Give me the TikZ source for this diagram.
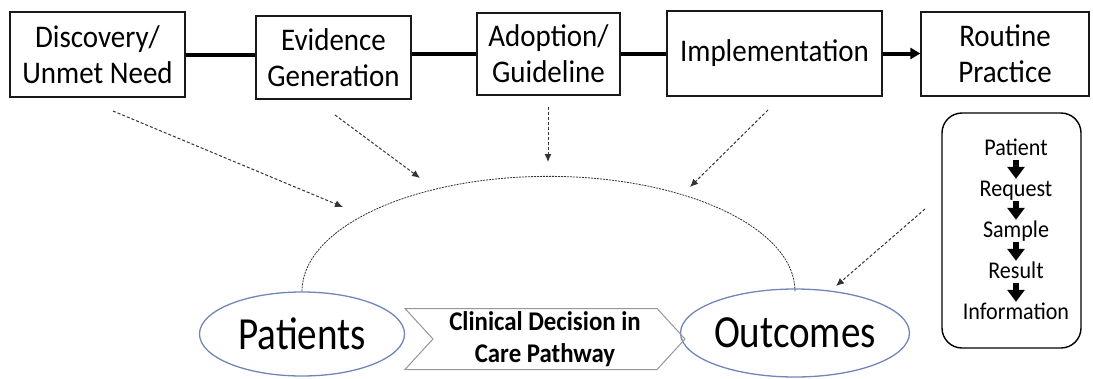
\documentclass[tikz,border=0pt]{standalone}
\usepackage{fontspec}
\setmainfont{Carlito}[FakeStretch=0.92]
\newfontfamily\narrowfont{Carlito}[FakeStretch=0.85]
\usetikzlibrary{shapes.geometric,shapes.symbols,arrows.meta}
\definecolor{ringblue}{RGB}{112,134,184}
\definecolor{chevgray}{RGB}{150,150,150}

\begin{document}
\begin{tikzpicture}[x=1pt,y=1pt,
  stage/.style={draw=black!90,line width=1.2pt,inner sep=0pt,align=center,
    font=\fontsize{31.5}{36}\selectfont},
  link/.style={line width=4pt},
  hint/.style={draw=black!80,line width=1pt,dash pattern=on 3pt off 2pt,
    -{Latex[length=8pt,width=7pt]}},
  ring/.style={ellipse,draw=ringblue,line width=1.3pt,inner sep=0pt,
    font=\narrowfont\fontsize{46}{50}\selectfont},
  item/.style={anchor=base,inner sep=1pt,text height=16pt,text depth=4pt,
    font=\fontsize{24}{28}\selectfont},
  down/.style={line width=6pt,-{Triangle[length=12pt,width=17pt]}}]
  \useasboundingbox (0,0) rectangle (1093,-378);

  \node[stage,minimum width=175pt,minimum height=85pt]
  (disc) at (97.5,-54.5) {Discovery/\\Unmet Need};
  \node[stage,minimum width=155pt,minimum height=83pt]
  (evid) at (333.5,-57.5) {Evidence\\Generation};
  \node[stage,minimum width=143pt,minimum height=82pt]
  (adop) at (548.5,-54) {Adoption/\\Guideline};
  \node[stage,minimum width=215pt,minimum height=85pt]
  (impl) at (774.5,-53.5) {Implementation};
  \node[stage,minimum width=168pt,minimum height=84pt]
  (rout) at (1005,-54) {Routine\\Practice};

  \draw[link] (disc.east) -- (disc.east -| evid.west);
  \draw[link] (adop.west -| evid.east) -- (adop.west);
  \draw[link] (adop.east) -- (adop.east -| impl.west);
  \draw[link,-{Triangle[length=10pt,width=11pt]}] (impl.east) -- (impl.east -| rout.west);

  \node[ring,minimum width=205pt,minimum height=84pt] (pat) at (302,-334) {Patients};
  \node[ring,minimum width=204pt,minimum height=88pt] (out) at (795,-333) {Outcomes};
  \node[signal,signal from=west,signal to=east,signal pointer angle=95,
    draw=chevgray,line width=1pt,minimum width=280pt,minimum height=61pt,
    inner sep=0pt,align=center,font=\bfseries\fontsize{27}{32}\selectfont]
  (cdp) at (545,-339) {Clinical Decision in\\Care Pathway};

  \draw[black!80,line width=0.8pt,dash pattern=on 2pt off 1pt]
  (pat.north) arc[start angle=180,end angle=0,x radius=246.5pt,y radius=115pt];

  \coordinate (a1) at (113,-111);
  \coordinate (b1) at (343,-207);
  \coordinate (a2) at (335,-115);
  \coordinate (b2) at (420,-178);
  \coordinate (a3) at (548,-107);
  \coordinate (b3) at (548,-162);
  \coordinate (a4) at (768,-110);
  \coordinate (b4) at (690,-187);
  \coordinate (a5) at (925,-209);
  \coordinate (b5) at (836,-286);
  \draw[hint] (a1) -- (b1);
  \draw[hint] (a2) -- (b2);
  \draw[hint] (a3) -- (b3);
  \draw[hint] (a4) -- (b4);
  \draw[hint] (a5) -- (b5);

  \node[draw,line width=1.4pt,rounded corners=20pt,minimum width=139pt,minimum height=235pt]
  (flow) at (1011.5,-230.5) {};
  \node[item] (s1) at (1016,-155) {Patient};
  \node[item] (s2) at (1016,-196) {Request};
  \node[item] (s3) at (1016,-237) {Sample};
  \node[item] (s4) at (1016,-278) {Result};
  \node[item] (s5) at (1016,-319) {Information};
  \draw[down] (s1) -- (s2);
  \draw[down] (s2) -- (s3);
  \draw[down] (s3) -- (s4);
  \draw[down] (s4) -- (s5);
\end{tikzpicture}
\end{document}
